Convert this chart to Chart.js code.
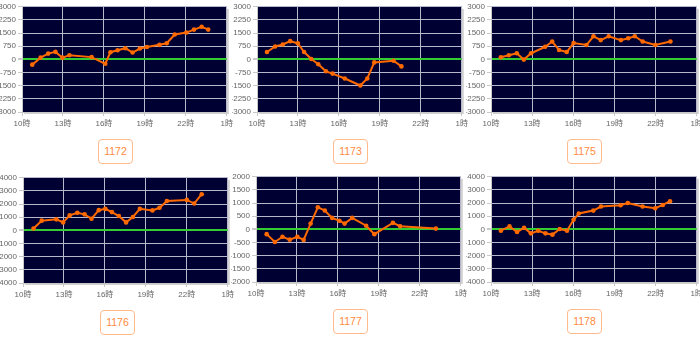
<!DOCTYPE html>
<html>
<head>
<meta charset="utf-8">
<script src="https://cdn.jsdelivr.net/npm/chart.js"></script>
<style>
  body { margin: 0; width: 700px; height: 340px; background: #fff; position: relative; overflow: hidden; }
  .box { position: absolute; }
  .num {
    position: absolute; width: 33px; height: 23px; box-sizing: content-box;
    border: 1.5px solid #ffbb8c; border-radius: 4px;
    color: #ff8a3d; font: 10.5px "Liberation Sans", Arial, sans-serif;
    text-align: center; line-height: 23px;
  }
</style>
</head>
<body>

<div class="box" style="left:0px;top:0px"><canvas id="c1172" width="236" height="136"></canvas></div>
<div class="box" style="left:232px;top:0px"><canvas id="c1173" width="239" height="136"></canvas></div>
<div class="box" style="left:466px;top:0px"><canvas id="c1175" width="240" height="136"></canvas></div>
<div class="box" style="left:0px;top:171px"><canvas id="c1176" width="237" height="136"></canvas></div>
<div class="box" style="left:231px;top:170px"><canvas id="c1177" width="239" height="136"></canvas></div>
<div class="box" style="left:466px;top:170px"><canvas id="c1178" width="240" height="136"></canvas></div>

<div class="num" style="left:98px;top:139px">1172</div>
<div class="num" style="left:333px;top:139px">1173</div>
<div class="num" style="left:567px;top:139px">1175</div>
<div class="num" style="left:100px;top:310px">1176</div>
<div class="num" style="left:333px;top:309px">1177</div>
<div class="num" style="left:567px;top:309px">1178</div>

<script>
// データ ----------------------------------------
var xTicks = [10, 13, 16, 19, 22, 25];

var hours1172  = [10.75, 11.36, 11.92, 12.45, 12.96, 13.47, 15.1, 16.1, 16.48, 17.0, 17.57, 18.1, 18.64, 19.15, 20.07, 20.6, 21.19, 22.04, 22.6, 23.16, 23.64];
var values1172 = [-300, 100, 330, 430, 100, 240, 130, -250, 410, 520, 640, 390, 620, 710, 830, 920, 1420, 1530, 1700, 1860, 1700];

var hours1173  = [10.73, 11.33, 11.89, 12.43, 12.99, 13.45, 13.98, 14.49, 15.05, 15.53, 16.43, 17.57, 18.08, 18.59, 20.0, 20.58];
var values1173 = [420, 740, 850, 1040, 920, 420, 20, -280, -680, -810, -1090, -1490, -1090, -170, -80, -400];

var hours1175  = [10.72, 11.3, 11.88, 12.39, 12.92, 13.95, 14.46, 14.96, 15.52, 16.02, 16.96, 17.47, 18.0, 18.58, 19.47, 20.0, 20.48, 21.06, 21.98, 23.08];
var values1175 = [120, 235, 350, -10, 350, 720, 1020, 540, 420, 930, 820, 1320, 1100, 1320, 1100, 1210, 1320, 1020, 820, 1020];

var hours1176  = [10.77, 11.37, 12.44, 12.94, 13.42, 13.98, 14.51, 15.02, 15.55, 16.03, 16.51, 17.02, 17.55, 18.05, 18.56, 19.48, 20.0, 20.54, 22.0, 22.54, 23.09];
var values1176 = [140, 740, 840, 610, 1140, 1340, 1220, 890, 1540, 1640, 1390, 1090, 610, 1020, 1640, 1520, 1720, 2240, 2320, 2040, 2750];

var hours1177  = [10.78, 11.38, 11.94, 12.47, 13.03, 13.49, 14.0, 14.53, 15.04, 15.57, 16.11, 16.49, 17.05, 18.07, 18.67, 20.03, 20.56, 23.18];
var values1177 = [-180, -480, -280, -390, -280, -400, 220, 840, 720, 440, 330, 220, 440, 140, -180, 250, 120, 30];

var hours1178  = [10.72, 11.35, 11.9, 12.41, 12.91, 13.44, 13.97, 14.48, 15.01, 15.54, 16.02, 16.4, 17.46, 18.02, 19.44, 19.97, 21.05, 21.97, 22.52, 23.05];
var values1178 = [-100, 230, -200, 130, -300, -100, -300, -400, 30, -100, 730, 1210, 1430, 1740, 1840, 2010, 1740, 1610, 1860, 2140];

// プラグイン ----------------------------------------
var plotBg = {
  id: 'plotBg',
  beforeDraw: function(chart){
    var a = chart.chartArea;
    var c = chart.ctx;
    c.save();
    c.fillStyle = '#d0d0d0';
    c.fillRect(a.left + 2, a.top + 2, a.right - a.left, a.bottom - a.top);
    c.fillStyle = '#000033';
    c.fillRect(a.left, a.top, a.right - a.left, a.bottom - a.top);
    c.restore();
  }
};

function makeChart(id, hours, values, yMax, yStep, yWidth){
  var pts = [];
  for (var i = 0; i < hours.length; i++) {
    pts.push({x: hours[i], y: values[i]});
  }
  var tickFont = {family: '"Liberation Sans", "Noto Sans CJK JP", sans-serif', size: 8};
  return new Chart(document.getElementById(id), {
    type: 'line',
    data: {
      datasets: [{
        data: pts,
        borderColor: '#ff6a00',
        backgroundColor: '#ff6a00',
        borderWidth: 2,
        pointRadius: 2.3,
        pointBorderWidth: 0,
        pointHoverRadius: 2.3,
        tension: 0
      }]
    },
    options: {
      responsive: false,
      animation: false,
      events: [],
      layout: {padding: {top: 6, right: 8, left: 0, bottom: 0}},
      plugins: {legend: {display: false}, tooltip: {enabled: false}},
      scales: {
        x: {
          type: 'linear',
          min: 10, max: 25,
          afterBuildTicks: function(s){ s.ticks = xTicks.map(function(v){ return {value: v}; }); },
          afterFit: function(s){ s.height = 24; },
          ticks: {
            color: '#666',
            font: tickFont,
            padding: 3,
            maxRotation: 0,
            autoSkip: false,
            callback: function(v){ return (v % 24) + '時'; }
          },
          grid: {color: '#b8b8cc', tickColor: '#c8c8c8', tickLength: 4, lineWidth: 1},
          border: {color: '#c8c8c8'}
        },
        y: {
          min: -yMax, max: yMax,
          afterFit: function(s){ s.width = yWidth; },
          ticks: {
            stepSize: yStep,
            color: '#666',
            font: tickFont,
            padding: 2,
            autoSkip: false,
            callback: function(v){ return String(v); }
          },
          grid: {
            color: function(c){ return c.tick && c.tick.value === 0 ? '#33cc33' : '#b8b8cc'; },
            lineWidth: function(c){ return c.tick && c.tick.value === 0 ? 2 : 1; },
            tickColor: '#c8c8c8',
            tickLength: 4
          },
          border: {color: '#c8c8c8'}
        }
      }
    },
    plugins: [plotBg]
  });
}

makeChart('c1172', hours1172, values1172, 3000, 750, 22);
makeChart('c1173', hours1173, values1173, 3000, 750, 25);
makeChart('c1175', hours1175, values1175, 3000, 750, 25);
makeChart('c1176', hours1176, values1176, 4000, 1000, 23);
makeChart('c1177', hours1177, values1177, 2000, 500, 25);
makeChart('c1178', hours1178, values1178, 4000, 1000, 25);
</script>
</body>
</html>
